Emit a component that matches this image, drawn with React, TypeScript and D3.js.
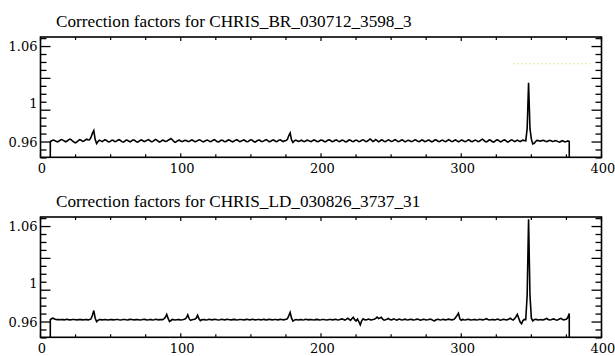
import React from "react";
import * as d3 from "d3";

// ---- data ----
const X_START = 6; // first column index of the series arrays (value 0 = outside valid columns)

const titles = [
  "Correction factors for CHRIS_BR_030712_3598_3",
  "Correction factors for CHRIS_LD_030826_3737_31",
];

const seriesBR = [
  0,
  0.9606, 0.9614, 0.9621, 0.9617, 0.9608, 0.9602, 0.9608, 0.9618, 0.9626, 0.9620,
  0.9610, 0.9603, 0.9611, 0.9623, 0.9631, 0.9622, 0.9608, 0.9597, 0.9592, 0.9601,
  0.9615, 0.9625, 0.9619, 0.9607, 0.9611, 0.9622, 0.9629, 0.9621, 0.9624, 0.9648,
  0.9690, 0.9720, 0.9625, 0.9585, 0.9606, 0.9620, 0.9612, 0.9605, 0.9614, 0.9624,
  0.9617, 0.9606, 0.9601, 0.9610, 0.9620, 0.9615, 0.9605, 0.9607, 0.9618, 0.9624,
  0.9616, 0.9604, 0.9599, 0.9608, 0.9620, 0.9618, 0.9607, 0.9602, 0.9613, 0.9623,
  0.9619, 0.9606, 0.9598, 0.9605, 0.9617, 0.9622, 0.9613, 0.9605, 0.9610, 0.9620,
  0.9625, 0.9615, 0.9603, 0.9605, 0.9617, 0.9627, 0.9620, 0.9608, 0.9600, 0.9609,
  0.9620, 0.9616, 0.9606, 0.9608, 0.9619, 0.9626, 0.9636, 0.9624, 0.9606, 0.9597,
  0.9604, 0.9616, 0.9620, 0.9611, 0.9604, 0.9610, 0.9618, 0.9615, 0.9606, 0.9607,
  0.9616, 0.9622, 0.9614, 0.9604, 0.9606, 0.9615, 0.9623, 0.9619, 0.9609, 0.9602,
  0.9607, 0.9617, 0.9621, 0.9612, 0.9604, 0.9608, 0.9619, 0.9624, 0.9614, 0.9603,
  0.9601, 0.9611, 0.9621, 0.9617, 0.9606, 0.9603, 0.9613, 0.9622, 0.9618, 0.9607,
  0.9602, 0.9610, 0.9620, 0.9624, 0.9614, 0.9604, 0.9607, 0.9617, 0.9622, 0.9613,
  0.9603, 0.9605, 0.9616, 0.9623, 0.9618, 0.9606, 0.9600, 0.9608, 0.9619, 0.9621,
  0.9611, 0.9603, 0.9609, 0.9620, 0.9625, 0.9615, 0.9604, 0.9606, 0.9617, 0.9622,
  0.9614, 0.9604, 0.9608, 0.9619, 0.9623, 0.9613, 0.9605, 0.9612, 0.9616, 0.9626,
  0.9665, 0.9695, 0.9622, 0.9596, 0.9612, 0.9620, 0.9614, 0.9606, 0.9611, 0.9620,
  0.9611, 0.9604, 0.9610, 0.9620, 0.9617, 0.9607, 0.9605, 0.9614, 0.9622, 0.9616,
  0.9606, 0.9604, 0.9613, 0.9621, 0.9618, 0.9608, 0.9602, 0.9610, 0.9620, 0.9623,
  0.9613, 0.9603, 0.9607, 0.9618, 0.9622, 0.9612, 0.9604, 0.9611, 0.9621, 0.9617,
  0.9606, 0.9601, 0.9611, 0.9622, 0.9619, 0.9608, 0.9604, 0.9613, 0.9621, 0.9615,
  0.9605, 0.9607, 0.9618, 0.9623, 0.9614, 0.9604, 0.9608, 0.9619, 0.9632, 0.9620,
  0.9605, 0.9613, 0.9627, 0.9616, 0.9602, 0.9610, 0.9622, 0.9618, 0.9607, 0.9604,
  0.9614, 0.9623, 0.9617, 0.9606, 0.9608, 0.9620, 0.9624, 0.9614, 0.9604, 0.9607,
  0.9618, 0.9622, 0.9612, 0.9603, 0.9609, 0.9619, 0.9617, 0.9606, 0.9605, 0.9615,
  0.9623, 0.9618, 0.9607, 0.9604, 0.9613, 0.9622, 0.9616, 0.9605, 0.9607, 0.9618,
  0.9621, 0.9611, 0.9602, 0.9608, 0.9620, 0.9623, 0.9613, 0.9604, 0.9608, 0.9619,
  0.9618, 0.9607, 0.9604, 0.9614, 0.9624, 0.9617, 0.9605, 0.9606, 0.9617, 0.9622,
  0.9612, 0.9603, 0.9609, 0.9620, 0.9618, 0.9607, 0.9603, 0.9612, 0.9623, 0.9618,
  0.9606, 0.9604, 0.9614, 0.9621, 0.9615, 0.9605, 0.9608, 0.9619, 0.9630, 0.9619,
  0.9606, 0.9602, 0.9611, 0.9622, 0.9618, 0.9606, 0.9600, 0.9608, 0.9620, 0.9623,
  0.9612, 0.9602, 0.9607, 0.9619, 0.9622, 0.9611, 0.9599, 0.9605, 0.9617, 0.9623,
  0.9614, 0.9604, 0.9611, 0.9620, 0.9612, 0.9604, 0.9613, 0.9620, 0.9616, 0.9612,
  0.9743, 1.0221, 0.9740, 0.9630, 0.9580, 0.9586, 0.9606, 0.9617, 0.9615, 0.9609,
  0.9612, 0.9618, 0.9615, 0.9607, 0.9604, 0.9611, 0.9618, 0.9614, 0.9606, 0.9608,
  0.9616, 0.9612, 0.9604, 0.9598, 0.9606, 0.9614, 0.9609, 0.9602, 0.9605, 0.9611,
  0.9606,
  0,
];

const seriesLD = [
  0,
  0.9625, 0.9636, 0.9640, 0.9632, 0.9626, 0.9625, 0.9627, 0.9624, 0.9626, 0.9625,
  0.9623, 0.9626, 0.9628, 0.9625, 0.9623, 0.9624, 0.9627, 0.9626, 0.9623, 0.9622,
  0.9625, 0.9627, 0.9625, 0.9623, 0.9624, 0.9626, 0.9625, 0.9623, 0.9626, 0.9632,
  0.9670, 0.9720, 0.9640, 0.9604, 0.9618, 0.9626, 0.9625, 0.9622, 0.9623, 0.9626,
  0.9624, 0.9622, 0.9624, 0.9626, 0.9625, 0.9623, 0.9624, 0.9627, 0.9626, 0.9623,
  0.9621, 0.9623, 0.9626, 0.9627, 0.9624, 0.9622, 0.9625, 0.9628, 0.9626, 0.9623,
  0.9622, 0.9625, 0.9627, 0.9624, 0.9621, 0.9623, 0.9627, 0.9629, 0.9625, 0.9622,
  0.9624, 0.9627, 0.9625, 0.9622, 0.9624, 0.9628, 0.9626, 0.9623, 0.9625, 0.9627,
  0.9625, 0.9632, 0.9650, 0.9680, 0.9638, 0.9605, 0.9616, 0.9627, 0.9624, 0.9621,
  0.9624, 0.9627, 0.9625, 0.9622, 0.9624, 0.9627, 0.9631, 0.9645, 0.9675, 0.9635,
  0.9617, 0.9623, 0.9627, 0.9629, 0.9640, 0.9670, 0.9633, 0.9615, 0.9624, 0.9627,
  0.9625, 0.9622, 0.9624, 0.9628, 0.9626, 0.9623, 0.9625, 0.9629, 0.9627, 0.9623,
  0.9621, 0.9624, 0.9628, 0.9626, 0.9623, 0.9625, 0.9629, 0.9627, 0.9623, 0.9622,
  0.9625, 0.9628, 0.9625, 0.9622, 0.9624, 0.9627, 0.9626, 0.9623, 0.9622, 0.9625,
  0.9628, 0.9626, 0.9623, 0.9625, 0.9629, 0.9626, 0.9622, 0.9623, 0.9627, 0.9626,
  0.9623, 0.9624, 0.9628, 0.9625, 0.9622, 0.9625, 0.9628, 0.9626, 0.9623, 0.9624,
  0.9627, 0.9626, 0.9623, 0.9625, 0.9628, 0.9626, 0.9623, 0.9625, 0.9630, 0.9634,
  0.9665, 0.9702, 0.9640, 0.9610, 0.9620, 0.9626, 0.9624, 0.9622, 0.9625, 0.9626,
  0.9622, 0.9624, 0.9628, 0.9626, 0.9623, 0.9625, 0.9627, 0.9624, 0.9622, 0.9625,
  0.9628, 0.9625, 0.9622, 0.9624, 0.9627, 0.9626, 0.9623, 0.9621, 0.9624, 0.9627,
  0.9626, 0.9623, 0.9625, 0.9628, 0.9626, 0.9622, 0.9624, 0.9629, 0.9633, 0.9627,
  0.9621, 0.9628, 0.9639, 0.9631, 0.9617, 0.9635, 0.9649, 0.9625, 0.9611, 0.9631,
  0.9603, 0.9570, 0.9613, 0.9633, 0.9625, 0.9621, 0.9627, 0.9631, 0.9625, 0.9622,
  0.9626, 0.9630, 0.9638, 0.9652, 0.9636, 0.9642, 0.9650, 0.9630, 0.9620, 0.9624,
  0.9629, 0.9637, 0.9625, 0.9621, 0.9627, 0.9633, 0.9625, 0.9620, 0.9626, 0.9631,
  0.9624, 0.9621, 0.9627, 0.9630, 0.9624, 0.9622, 0.9626, 0.9629, 0.9625, 0.9621,
  0.9624, 0.9628, 0.9631, 0.9625, 0.9619, 0.9624, 0.9629, 0.9626, 0.9621, 0.9623,
  0.9627, 0.9631, 0.9625, 0.9617, 0.9613, 0.9623, 0.9629, 0.9626, 0.9622, 0.9624,
  0.9628, 0.9625, 0.9622, 0.9626, 0.9630, 0.9627, 0.9623, 0.9625, 0.9630, 0.9648,
  0.9670, 0.9692, 0.9633, 0.9618, 0.9627, 0.9624, 0.9622, 0.9626, 0.9629, 0.9625,
  0.9622, 0.9624, 0.9627, 0.9625, 0.9622, 0.9624, 0.9628, 0.9626, 0.9623, 0.9625,
  0.9629, 0.9635, 0.9627, 0.9621, 0.9624, 0.9627, 0.9625, 0.9622, 0.9626, 0.9631,
  0.9625, 0.9620, 0.9624, 0.9629, 0.9626, 0.9622, 0.9625, 0.9631, 0.9639, 0.9628,
  0.9621, 0.9635, 0.9655, 0.9680, 0.9640, 0.9600, 0.9582, 0.9615, 0.9628, 0.9625,
  0.9883, 1.0675, 0.9880, 0.9640, 0.9612, 0.9625, 0.9629, 0.9625, 0.9621, 0.9624,
  0.9625, 0.9622, 0.9625, 0.9631, 0.9637, 0.9627, 0.9621, 0.9624, 0.9629, 0.9633,
  0.9625, 0.9619, 0.9624, 0.9631, 0.9638, 0.9629, 0.9623, 0.9627, 0.9630, 0.9650,
  0.9690,
  0,
];

const panelSeries = [seriesBR, seriesLD];

const xDomain = [0, 400];
const yDomain = [0.944, 1.07];
const xMajorTicks = [0, 100, 200, 300, 400];
const xMinorTicks = [25, 50, 75, 125, 150, 175, 225, 250, 275, 325, 350, 375];
const yLabelValues = [1.06, 1, 0.96];
const yLabelTexts = ["1.06", "1", "0.96"];
const yMajorTicks = [0.96, 0.96 + 1 / 30, 0.96 + 2 / 30, 1.06];
const yMinorTicks = [
  0.96 - 2 / 120, 0.96 - 1 / 120,
  0.96 + 1 / 120, 0.96 + 2 / 120, 0.96 + 3 / 120,
  0.96 + 5 / 120, 0.96 + 6 / 120, 0.96 + 7 / 120,
  0.96 + 9 / 120, 0.96 + 10 / 120, 0.96 + 11 / 120,
  1.06 + 1 / 120,
];

// ---- layout ----
const W = 615;
const H = 356;
const LEFT = 40.5;
const RIGHT = 601.5;
const PANEL_H = 120.3;
const PANEL_TOPS = [37, 217];

const tickFont = { fontFamily: '"DejaVu Serif", "Liberation Serif", Times, serif' };
const titleFont = { fontFamily: '"Liberation Serif", "Times New Roman", Times, serif' };

function Panel({ top, title, values, idx }: { top: number; title: string; values: number[]; idx: number }) {
  const bottom = top + PANEL_H;
  const x = d3.scaleLinear().domain(xDomain).range([LEFT, RIGHT]);
  const y = d3.scaleLinear().domain(yDomain).range([bottom, top]);
  const line = d3
    .line<number>()
    .x((_, i) => x(X_START + i))
    .y((d) => y(d));
  const clipId = `clip-${idx}`;
  const yTick = (v: number, len: number, key: string) => (
    <g key={key}>
      <line x1={LEFT} x2={LEFT + len} y1={y(v)} y2={y(v)} stroke="#000" strokeWidth={1.3} />
      <line x1={RIGHT} x2={RIGHT - len} y1={y(v)} y2={y(v)} stroke="#000" strokeWidth={1.3} />
    </g>
  );
  const xTick = (v: number, len: number, key: string) => (
    <g key={key}>
      <line x1={x(v)} x2={x(v)} y1={bottom} y2={bottom - len} stroke="#000" strokeWidth={1.2} />
      <line x1={x(v)} x2={x(v)} y1={top} y2={top + len} stroke="#000" strokeWidth={1.2} />
    </g>
  );
  return (
    <g>
      <defs>
        <clipPath id={clipId}>
          <rect x={LEFT} y={top} width={RIGHT - LEFT} height={PANEL_H} />
        </clipPath>
      </defs>
      <text x={56} y={top - 10} style={titleFont} fontSize={17.2} fill="#000">
        {title}
      </text>
      {idx === 0 && (
        <line
          x1={513}
          x2={590}
          y1={y(1.042)}
          y2={y(1.042)}
          stroke="#ece3a0"
          strokeWidth={1.2}
          strokeDasharray="2,2"
        />
      )}
      <path d={line(values) || ""} fill="none" stroke="#000" strokeWidth={1.6} clipPath={`url(#${clipId})`} />
      {yMajorTicks.map((v, i) => yTick(v, 10, `ym${i}`))}
      {yMinorTicks.map((v, i) => yTick(v, 6, `yn${i}`))}
      {xMajorTicks.map((v, i) => xTick(v, 4, `xm${i}`))}
      {xMinorTicks.map((v, i) => xTick(v, 3, `xn${i}`))}
      <rect x={LEFT} y={top} width={RIGHT - LEFT} height={PANEL_H} fill="none" stroke="#000" strokeWidth={1.6} />
      {yLabelValues.map((v, i) => (
        <text
          key={`yl${i}`}
          x={37.5}
          y={y(v) + 4.6}
          textAnchor="end"
          style={tickFont}
          fontSize={13}
          fill="#000"
        >
          {yLabelTexts[i]}
        </text>
      ))}
      {xMajorTicks.map((v, i) => (
        <text
          key={`xl${i}`}
          x={x(v) + 1.5}
          y={bottom + 16}
          textAnchor="middle"
          style={tickFont}
          fontSize={13}
          fill="#000"
        >
          {String(v)}
        </text>
      ))}
    </g>
  );
}

export default function App() {
  return (
    <svg
      width={W}
      height={H}
      viewBox={`0 0 ${W} ${H}`}
      style={{ position: "absolute", left: 0, top: 0, background: "#fff" }}
    >
      <rect x={0} y={0} width={W} height={H} fill="#fff" />
      {PANEL_TOPS.map((t, i) => (
        <Panel key={i} idx={i} top={t} title={titles[i]} values={panelSeries[i]} />
      ))}
    </svg>
  );
}
